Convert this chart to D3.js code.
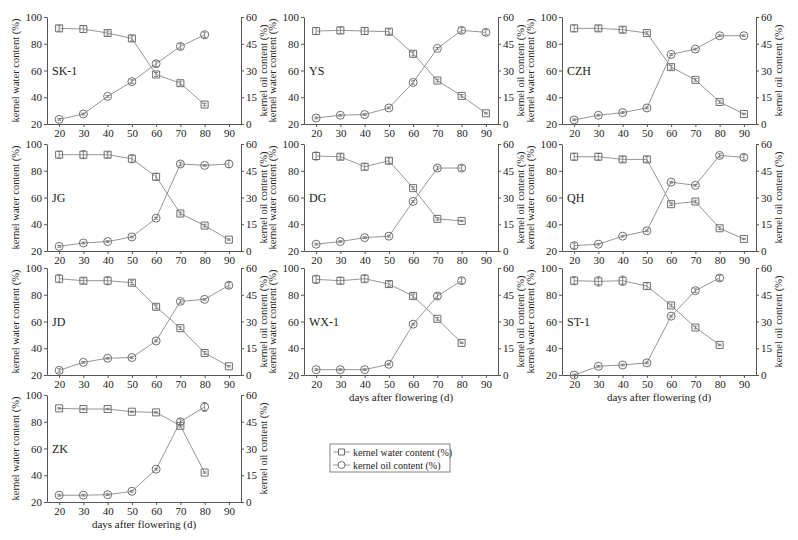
<!DOCTYPE html>
<html>
<head>
<meta charset="utf-8">
<script src="https://cdn.jsdelivr.net/npm/d3@7"></script>
<style>
  body { margin: 0; background: #fff; }
  text { font-family: "Liberation Serif", "DejaVu Serif", serif; fill: #222; }
  .axis path, .axis line { stroke: #555; }
  .axis text { font-size: 11px; fill: #222; font-family: "Liberation Serif", serif; }
</style>
</head>
<body>
<div id="vis"></div>
<script>
// days after flowering
var days = [20, 30, 40, 50, 60, 70, 80, 90];
var cultivars = ['SK-1', 'YS', 'CZH', 'JG', 'DG', 'QH', 'JD', 'WX-1', 'ST-1', 'ZK'];

// kernel water content (%), one row per cultivar
var waterContent = [
  [91.5, 91, 88, 84, 57, 50.5, 34.5],
  [89.5, 90, 89.5, 89, 72.5, 52.5, 41, 28],
  [91.5, 91.5, 90.5, 88, 62.5, 53, 36.5, 27.5],
  [92, 92, 92, 89, 75.5, 48, 39, 28.5],
  [91, 90.5, 83, 87.5, 67, 44, 42.5],
  [90.5, 90.5, 88.5, 88.5, 55, 57, 37, 29],
  [92, 90.5, 90.5, 89, 71, 55, 36.5, 26.5],
  [91.5, 90.5, 92, 88, 79, 62, 44],
  [90.5, 90, 90.5, 86.5, 72, 55.5, 42.5],
  [90, 89.5, 89.5, 87.5, 87, 77, 42]
];
var waterErr = [
  [2, 2.5, 1.5, 2, 1.5, 1.5, 1],
  [2.5, 2.5, 2.5, 2, 1.5, 1, 1, 0.5],
  [2.5, 2, 2, 1, 1.5, 1, 1, 0.5],
  [2.5, 3, 2, 3, 2.5, 1, 1, 0.5],
  [3, 2, 2.5, 2, 1, 1, 0.5],
  [2.5, 2.5, 2, 2, 1, 1, 1, 0.5],
  [3, 2, 3, 1.5, 1.5, 1, 1, 0.5],
  [3, 2.5, 3, 2, 1.5, 1, 0.5],
  [3, 3.5, 3.5, 2.5, 1, 1, 0.5],
  [0.5, 0.5, 0.5, 0.5, 0.5, 1, 0.5]
];

// kernel oil content (%), one row per cultivar
var oilContent = [
  [2.6, 5.6, 15.5, 23.8, 33.8, 43.5, 50],
  [3.4, 4.9, 5.3, 9, 23.3, 42.4, 52.5, 51.4],
  [2.3, 4.9, 6.4, 9, 39, 42, 49.5, 49.5],
  [2.6, 4.5, 5.3, 7.9, 18.4, 48.8, 48, 48.8],
  [3.8, 5.3, 7.5, 8.3, 27.8, 46.5, 46.5],
  [3, 3.8, 8.3, 11.3, 38.6, 36.8, 53.6, 52.5],
  [2.6, 7.1, 9.4, 9.8, 19.1, 41.3, 42.4, 50.3],
  [3, 3, 3, 6, 28.5, 44.3, 52.9],
  [0, 4.9, 5.6, 6.8, 33, 47.3, 54.4],
  [3.8, 3.8, 4.1, 6, 18.4, 45, 53.3]
];
var oilErr = [
  [0.5, 0.5, 0.5, 1, 1.5, 1.5, 1.5],
  [0.5, 0.5, 0.5, 0.5, 1, 0.5, 1.5, 1.5],
  [0.5, 0.5, 0.5, 0.5, 0.5, 0.5, 0.5, 0.5],
  [0.5, 0.5, 0.5, 0.5, 0.5, 1, 0.5, 2],
  [0.5, 0.5, 0.5, 0.5, 0.5, 1, 1.5],
  [1.5, 0.5, 0.5, 0.5, 0.5, 0.5, 1, 1.5],
  [1, 0.5, 0.5, 0.5, 0.5, 1, 0.5, 1.5],
  [0.5, 0.5, 0.5, 0.5, 0.5, 1.5, 1.5],
  [0.5, 0.5, 0.5, 0.5, 0.5, 1, 1.5],
  [0.5, 0.5, 0.5, 0.5, 0.5, 1.5, 2.5]
];

var xTicks = [20, 30, 40, 50, 60, 70, 80, 90];
var waterTicks = [20, 40, 60, 80, 100];
var oilTicks = [0, 15, 30, 45, 60];
var seriesNames = ['kernel water content (%)', 'kernel oil content (%)'];

// layout
var width = 798, height = 540;
var colLeft = [47, 304, 562];
var rowTop = [17, 144, 268, 395];
var pw = 194, ph = 107;
var markColor = '#6e6e6e';
var lineColor = '#8a8a8a';

var svg = d3.select('#vis').append('svg')
  .attr('width', width)
  .attr('height', height);

var x = d3.scaleLinear().domain([15, 95]).range([0, pw]);
var yWater = d3.scaleLinear().domain([20, 100]).range([ph, 0]);
var yOil = d3.scaleLinear().domain([0, 60]).range([ph, 0]);

function squarePath(cx, cy, s) {
  return 'M' + (cx - s) + ',' + (cy - s) + 'h' + (2 * s) + 'v' + (2 * s) + 'h' + (-2 * s) + 'Z';
}

function drawSeries(g, vals, errs, y, shape) {
  var pts = vals.map(function (v, i) { return { d: days[i], v: v, e: errs[i] }; });

  g.append('path')
    .datum(pts)
    .attr('fill', 'none')
    .attr('stroke', lineColor)
    .attr('stroke-width', 0.9)
    .attr('d', d3.line().x(function (p) { return x(p.d); }).y(function (p) { return y(p.v); }));

  // error bars
  var eb = g.selectAll(null).data(pts).enter().append('g');
  eb.append('line')
    .attr('x1', function (p) { return x(p.d); })
    .attr('x2', function (p) { return x(p.d); })
    .attr('y1', function (p) { return y(p.v - p.e); })
    .attr('y2', function (p) { return y(p.v + p.e); })
    .attr('stroke', markColor).attr('stroke-width', 0.8);
  [-1, 1].forEach(function (sgn) {
    eb.append('line')
      .attr('x1', function (p) { return x(p.d) - 2; })
      .attr('x2', function (p) { return x(p.d) + 2; })
      .attr('y1', function (p) { return y(p.v + sgn * p.e); })
      .attr('y2', function (p) { return y(p.v + sgn * p.e); })
      .attr('stroke', markColor).attr('stroke-width', 0.8);
  });

  if (shape === 'square') {
    g.selectAll(null).data(pts).enter().append('path')
      .attr('d', function (p) { return squarePath(x(p.d), y(p.v), 3.5); })
      .attr('fill', 'none')
      .attr('stroke', markColor)
      .attr('stroke-width', 1);
  } else {
    g.selectAll(null).data(pts).enter().append('circle')
      .attr('cx', function (p) { return x(p.d); })
      .attr('cy', function (p) { return y(p.v); })
      .attr('r', 4)
      .attr('fill', 'none')
      .attr('stroke', markColor)
      .attr('stroke-width', 1);
  }
}

cultivars.forEach(function (name, i) {
  var col = i % 3, row = Math.floor(i / 3);
  var g = svg.append('g')
    .attr('transform', 'translate(' + colLeft[col] + ',' + rowTop[row] + ')');

  g.append('g').attr('class', 'axis')
    .attr('transform', 'translate(0,' + ph + ')')
    .call(d3.axisBottom(x).tickValues(xTicks).tickSize(3).tickSizeOuter(0).tickPadding(2));
  g.append('g').attr('class', 'axis')
    .call(d3.axisLeft(yWater).tickValues(waterTicks).tickSize(3).tickSizeOuter(0).tickPadding(2));
  g.append('g').attr('class', 'axis')
    .attr('transform', 'translate(' + pw + ',0)')
    .call(d3.axisRight(yOil).tickValues(oilTicks).tickSize(3).tickSizeOuter(0).tickPadding(2));

  g.append('text')
    .attr('transform', 'translate(-28,' + ph / 2 + ') rotate(-90)')
    .attr('text-anchor', 'middle')
    .style('font-size', '10.5px')
    .text(seriesNames[0]);
  g.append('text')
    .attr('transform', 'translate(' + (pw + 26) + ',' + ph / 2 + ') rotate(-90)')
    .attr('text-anchor', 'middle')
    .style('font-size', '10.5px')
    .text(seriesNames[1]);

  g.append('text')
    .attr('x', 5)
    .attr('y', yWater(57))
    .style('font-size', '12px')
    .text(name);

  drawSeries(g, oilContent[i], oilErr[i], yOil, 'circle');
  drawSeries(g, waterContent[i], waterErr[i], yWater, 'square');

  // x title under the last panel of each column
  var lastInCol = i + 3 >= cultivars.length;
  if (lastInCol) {
    g.append('text')
      .attr('x', pw / 2)
      .attr('y', ph + 26)
      .attr('text-anchor', 'middle')
      .style('font-size', '11px')
      .text('days after flowering (d)');
  }
});

// legend
var lg = svg.append('g').attr('transform', 'translate(330,444)');
lg.append('rect')
  .attr('width', 120).attr('height', 28)
  .attr('fill', '#fff').attr('stroke', '#666').attr('stroke-width', 0.8);
seriesNames.forEach(function (s, k) {
  var yy = 8 + k * 13;
  lg.append('line').attr('x1', 3).attr('x2', 20).attr('y1', yy).attr('y2', yy)
    .attr('stroke', lineColor).attr('stroke-width', 0.9);
  if (k === 0) {
    lg.append('path').attr('d', squarePath(11.5, yy, 3))
      .attr('fill', '#fff').attr('stroke', markColor);
  } else {
    lg.append('circle').attr('cx', 11.5).attr('cy', yy).attr('r', 3.5)
      .attr('fill', '#fff').attr('stroke', markColor);
  }
  lg.append('text').attr('x', 23).attr('y', yy + 3.5)
    .style('font-size', '10px')
    .text(s);
});
</script>
</body>
</html>
